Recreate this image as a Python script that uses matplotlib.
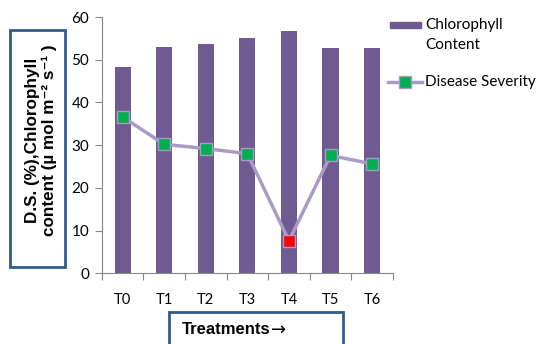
import numpy as np
import matplotlib.pyplot as plt
from matplotlib.patches import Rectangle
from matplotlib.lines import Line2D

# --- data ---
treatments = ["T0", "T1", "T2", "T3", "T4", "T5", "T6"]
chlorophyll = [48.2, 53.0, 53.7, 55.0, 56.7, 52.8, 52.7]
severity = [36.6, 30.2, 29.2, 28.0, 7.6, 27.6, 25.6]
marker_colors = ["#00B050", "#00B050", "#00B050", "#00B050", "#FF0000", "#00B050", "#00B050"]
y_ticks = [0, 10, 20, 30, 40, 50, 60]

bar_color = "#6F5A91"
line_color = "#A99BC6"
box_color = "#2F5C8F"

plt.rcParams['font.family'] = ['Lato', 'DejaVu Sans']

fig = plt.figure(figsize=(5.36, 3.44), dpi=100)
ax = fig.add_axes([0.19, 0.2055, 0.543, 0.745])

x = np.arange(len(treatments))
ax.bar(x, chlorophyll, width=0.39, color=bar_color, zorder=2)
ax.plot(x, severity, color=line_color, linewidth=2.5, zorder=3)
for xi, yi, c in zip(x, severity, marker_colors):
    ax.plot(xi, yi, marker="s", markersize=8.5, markerfacecolor=c,
            markeredgecolor=line_color, markeredgewidth=1, zorder=4)

ax.set_xlim(-0.5, len(treatments) - 0.5)
ax.set_ylim(0, 60)
ax.set_yticks(y_ticks)
ax.set_xticks(np.arange(len(treatments) + 1) - 0.5)
ax.set_xticklabels([])
ax.set_xticks(x, minor=True)
ax.set_xticklabels(treatments, minor=True)
ax.tick_params(axis="x", which="minor", length=0, pad=14, labelsize=10.5)
ax.tick_params(axis="x", which="major", length=5, color="#888888")
ax.tick_params(axis="y", length=5, color="#888888", labelsize=11, pad=4)

for side in ["top", "right"]:
    ax.spines[side].set_visible(False)
for side in ["left", "bottom"]:
    ax.spines[side].set_color("#888888")

# legend, drawn by hand to keep the Excel-like layout
fig.patches.append(Rectangle((390 / 536, 1 - 28 / 344), 31 / 536, 6 / 344,
                             transform=fig.transFigure, color=bar_color))
fig.text(425 / 536, 1 - 35 / 344, "Chlorophyll\nContent", ha="left", va="center",
         fontsize=11, linespacing=1.55)
fig.lines.append(Line2D([388 / 536, 422 / 536], [1 - 82 / 344, 1 - 82 / 344],
                        transform=fig.transFigure, color=line_color, linewidth=2.5))
fig.lines.append(Line2D([405 / 536], [1 - 82 / 344], transform=fig.transFigure,
                        marker="s", markersize=8.5, markerfacecolor="#00B050",
                        markeredgecolor=line_color, linestyle="none"))
fig.text(425 / 536, 1 - 82 / 344, "Disease Severity", ha="left", va="center",
         fontsize=11)

# y label box
fig.patches.append(Rectangle((10 / 536, 1 - 267 / 344), 55 / 536, 237 / 344,
                             transform=fig.transFigure, fill=False,
                             edgecolor=box_color, linewidth=2))
fig.text(41 / 536, 1 - 140 / 344,
         "D.S. (%),Chlorophyll\ncontent (µ mol m⁻² s⁻¹ )",
         rotation=90, ha="center", va="center", fontsize=12.3, fontweight="bold",
         family=["Liberation Sans", "DejaVu Sans"], linespacing=1.05)

# x label box
fig.patches.append(Rectangle((169 / 536, -0.05), 174 / 536, 1 - 312 / 344 + 0.05,
                             transform=fig.transFigure, fill=False,
                             edgecolor=box_color, linewidth=2))
t = fig.text(182 / 536, 1 - 330 / 344, "Treatments", ha="left", va="center",
             fontsize=12, fontweight="bold", family=["Liberation Sans"])
ax.annotate("→", xy=(1, 0.5), xycoords=t, ha="left", va="center",
            fontsize=13, family=["DejaVu Sans"])

fig.savefig("out.png", dpi=100)
